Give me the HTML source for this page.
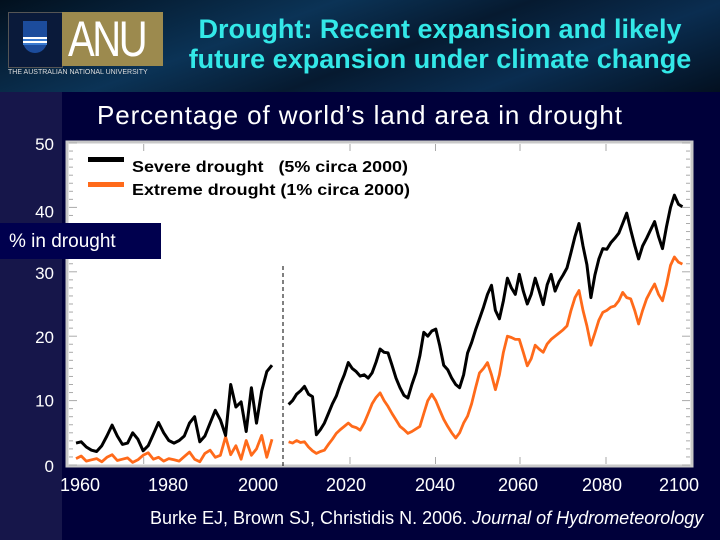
<!DOCTYPE html>
<html><head><meta charset="utf-8">
<style>
html,body{margin:0;padding:0;}
body{width:720px;height:540px;overflow:hidden;position:relative;background:#00003a;font-family:"Liberation Sans",sans-serif;}
#header{position:absolute;left:0;top:0;width:720px;height:92px;background:linear-gradient(160deg,#02101e 0%,#0b3356 35%,#061a30 55%,#0a2d50 75%,#031020 100%);}
#leftstrip{position:absolute;left:0;top:92px;width:62px;height:448px;background:#16164a;}
.t{position:absolute;color:#fff;white-space:nowrap;}
</style></head><body>
<div id="header"></div>
<div id="leftstrip"></div>
<div style="position:absolute;left:8px;top:12px;width:53px;height:54px;background:#0a1a3a;border:1px solid #555;">
  <div style="position:absolute;left:14px;top:8px;width:24px;height:32px;background:#1c4c9c;border-radius:0 0 12px 12px;"></div>
  <div style="position:absolute;left:14px;top:24px;width:24px;height:8px;background:repeating-linear-gradient(#fff 0 2px,#3a7ad0 2px 4px);"></div>
</div>
<div style="position:absolute;left:62px;top:12px;width:101px;height:54px;background:#9c8a4e;"></div>
<div class="t" style="left:68px;top:10px;font-size:50px;letter-spacing:-3px;transform:scaleX(0.8);transform-origin:left;">ANU</div>
<div class="t" style="left:8px;top:69px;font-size:7px;color:#ddd;">THE AUSTRALIAN NATIONAL UNIVERSITY</div>
<div class="t" style="left:170px;top:14px;width:540px;text-align:center;font-size:27px;font-weight:bold;color:#33e8e8;line-height:30px;">Drought: Recent expansion and likely<br>future expansion under climate change</div>
<div class="t" style="left:97px;top:100px;font-size:26px;letter-spacing:0.9px;">Percentage of world’s land area in drought</div>

<svg id="chart" width="720" height="540" style="position:absolute;left:0;top:0;">
</svg>

<div style="position:absolute;left:0;top:223px;width:161px;height:36px;background:#00004e;"></div>
<div class="t" style="left:9px;top:231px;font-size:19px;">% in drought</div>
<div class="t" style="left:150px;top:508px;font-size:18px;">Burke EJ, Brown SJ, Christidis N. 2006. <i>Journal of Hydrometeorology</i></div>

<script>
const yTicks=[0,10,20,30,40,50];
const xTickLabels=["1960","1980","2000","2020","2040","2060","2080","2100"];
const histStart=1958;
const histSevere=[3.4,3.6,2.8,2.3,2.1,3.0,4.5,6.2,4.5,3.2,3.4,5.0,4.0,2.2,3.0,4.8,6.6,5.0,3.8,3.4,3.8,4.5,6.5,7.5,3.6,4.5,6.5,8.5,7.0,4.6,12.5,9.0,9.8,5.2,12.0,6.5,11.5,14.5,15.5];
const histExtreme=[1.0,1.4,0.6,0.8,1.0,0.5,1.2,1.6,0.7,0.9,1.1,0.4,0.8,1.5,1.9,0.9,1.2,0.6,1.0,0.8,0.6,1.3,2.0,0.9,0.5,1.8,2.3,1.2,1.5,4.4,1.6,3.0,0.9,3.8,1.5,2.5,4.6,1.2,4.0];
const futStart=2000;
const futSevere=[9.4,10,11,11.5,12.2,11,10.6,4.7,5.5,6.5,8,9.5,10.7,12.5,14,15.9,15,14.5,13.8,14,13.5,14.3,16,18,17.5,17.4,15.5,13.5,12,10.8,10.4,12.5,14.3,17,20.6,20,20.8,21.1,18.5,15.5,14.8,13.5,12.5,12,14,17.4,19,21,22.7,24.5,26.5,27.9,24,22.7,25.5,29,27.5,26.5,29.6,27,25,26.5,29,27,24.9,28,29.6,27,28.5,29.5,30.6,33,35.5,37.5,34,31.1,26,29.5,32,33.6,33.5,34.5,35.2,36,37.5,39.1,36.5,34.1,32,34,35.2,36.5,37.8,35.5,33.6,37,40,41.9,40.5,40.1];
const futExtreme=[3.6,3.4,3.8,3.5,3.6,2.8,2.2,1.8,2.1,2.3,3.2,4,4.9,5.5,6,6.5,6,5.8,5.4,6.5,8,9.5,10.5,11.2,10,9.1,8,7,6,5.5,4.9,5.2,5.6,6,8,10,11,10,8.5,7.1,6,5,4.2,5,6.5,7.6,9.5,12,14.3,15,15.9,14,11.7,14,17.5,20,19.8,19.5,19.5,17.5,15.4,16.5,18.6,18,17.5,18.8,19.5,20,20.5,21,21.6,24,26,27.1,24,21.6,18.6,20.5,22.5,23.7,24,24.5,24.7,25.5,26.8,26,25.8,24,21.9,24,25.8,27,28.1,26.5,25.5,28,31,32.3,31.5,31.2];

const NS="http://www.w3.org/2000/svg";
const svg=document.getElementById('chart');
function yS(v){return 465-(v/50)*322;}
function xHist(yr){return 76+(yr-1958)*(272-76)/38;}
function xFut(yr){return 288.6+(yr-2000)*(682.4-288.6)/99;}
function mk(tag,attrs){const e=document.createElementNS(NS,tag);for(const k in attrs)e.setAttribute(k,attrs[k]);svg.appendChild(e);return e;}

const frame=mk('rect',{x:67,y:142,width:625,height:324,fill:'#fff',stroke:'#c8c8c8','stroke-width':3});


for(let v=0;v<=50;v+=1.25){
  const y=yS(v);const L=(v%10===0)?8:4;
  const t1=mk('line',{x1:69,x2:69+L,y1:y,y2:y,stroke:'#aaa','stroke-width':1});
  
  
  const t2=mk('line',{x1:690-L,x2:690,y1:y,y2:y,stroke:'#aaa','stroke-width':1});
  
  
}
[143.7,350,435.5,520,606].forEach(x=>{
  const a=mk('line',{x1:x,x2:x,y1:144,y2:151,stroke:'#aaa','stroke-width':1});
  
  
  const b=mk('line',{x1:x,x2:x,y1:457,y2:464,stroke:'#aaa','stroke-width':1});
  
  
});
const dl=mk('line',{x1:283,x2:283,y1:266,y2:466,stroke:'#000','stroke-width':1,'stroke-dasharray':'4,3'});



function series(vals,start,xf,color,w,name){
  const pts=vals.map((v,i)=>xf(start+i).toFixed(1)+','+yS(v).toFixed(1)).join(' ');
  const p=mk('polyline',{points:pts,fill:'none',stroke:color,'stroke-width':w,'stroke-linejoin':'round'});
  
  
}
series(histExtreme,histStart,xHist,'#ff6a1a',2.8,'extreme-drought-historical-line');
series(futExtreme,futStart,xFut,'#ff6a1a',2.8,'extreme-drought-projected-line');
series(histSevere,histStart,xHist,'#000',3,'severe-drought-historical-line');
series(futSevere,futStart,xFut,'#000',3,'severe-drought-projected-line');

const l1=mk('rect',{x:88,y:157,width:36,height:5,fill:'#000'});


const l2=mk('rect',{x:88,y:182,width:36,height:5,fill:'#ff6a1a'});


const lt1=mk('text',{x:132,y:172,'font-size':16,'font-weight':'bold',fill:'#000','font-family':'Liberation Sans, sans-serif',textLength:276,lengthAdjust:'spacingAndGlyphs'});
lt1.textContent='Severe drought   (5% circa 2000)';
lt1.style.whiteSpace='pre';


const lt2=mk('text',{x:132,y:195,'font-size':16,'font-weight':'bold',fill:'#000','font-family':'Liberation Sans, sans-serif',textLength:278,lengthAdjust:'spacingAndGlyphs'});
lt2.textContent='Extreme drought (1% circa 2000)';



yTicks.forEach(v=>{
  const t=mk('text',{x:54,y:yS(v)+7+(v===40?3:0)+(v===10?-1:0),'font-size':17,fill:'#fff','text-anchor':'end','font-family':'Liberation Sans, sans-serif'});
  t.textContent=v;
  
  
});
const xLabelPos=[80,168,258,346,435,518,602,679];
xTickLabels.forEach((s,i)=>{
  const t=mk('text',{x:xLabelPos[i],y:491,'font-size':18,fill:'#fff','text-anchor':'middle','font-family':'Liberation Sans, sans-serif'});
  t.textContent=s;
  
  
});
</script>
</body></html>
